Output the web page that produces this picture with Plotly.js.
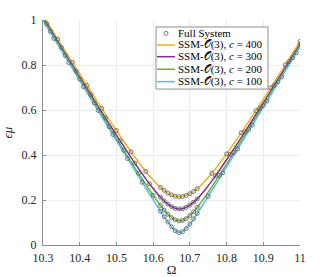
<!DOCTYPE html>
<html><head><meta charset="utf-8">
<script src="https://cdn.plot.ly/plotly-3.0.1.min.js"></script>
<style>body{margin:0;background:#fff}#g{width:332px;height:277px}</style>
</head><body><div id="g"></div>
<script>
// SSM-O(3) curves
const omegaSSM = [10.30,10.35,10.40,10.45,10.50,10.55,10.58,10.60,10.62,10.64,10.66,10.672,10.68,10.70,10.72,10.74,10.76,10.80,10.85,10.90,10.95,11.00];
const ssm400 = [1.020,0.889,0.760,0.633,0.509,0.391,0.327,0.289,0.256,0.231,0.217,0.215,0.216,0.228,0.250,0.282,0.319,0.405,0.523,0.648,0.775,0.905];
const ssm300 = [1.010,0.878,0.746,0.616,0.488,0.364,0.294,0.251,0.212,0.182,0.163,0.160,0.161,0.177,0.205,0.242,0.285,0.379,0.503,0.632,0.762,0.893];
const ssm200 = [1.003,0.870,0.737,0.605,0.473,0.344,0.269,0.221,0.176,0.137,0.112,0.107,0.109,0.131,0.167,0.211,0.259,0.359,0.489,0.620,0.753,0.886];
const ssm100 = [0.998,0.865,0.731,0.597,0.464,0.332,0.253,0.201,0.150,0.102,0.064,0.055,0.059,0.093,0.140,0.190,0.242,0.347,0.480,0.613,0.747,0.881];

// Full system samples
const fsOmega400 = [10.30,10.34,10.38,10.42,10.46,10.50,10.54,10.58,10.62,10.63,10.64,10.65,10.66,10.67,10.68,10.69,10.70,10.71,10.72,10.76,10.80,10.84,10.88,10.92,10.96,11.00];
const fs400 = [1.020,0.915,0.812,0.709,0.607,0.509,0.414,0.327,0.256,0.243,0.231,0.223,0.217,0.215,0.216,0.220,0.228,0.238,0.250,0.319,0.405,0.499,0.597,0.699,0.801,0.905];
const fsOmega300 = [10.31,10.35,10.39,10.43,10.47,10.51,10.55,10.59,10.62,10.63,10.64,10.65,10.66,10.67,10.68,10.69,10.70,10.71,10.72,10.77,10.81,10.85,10.89,10.93,10.97,11.00];
const fs300 = [0.983,0.878,0.773,0.668,0.565,0.463,0.364,0.272,0.212,0.196,0.182,0.171,0.163,0.160,0.161,0.167,0.177,0.190,0.205,0.308,0.403,0.503,0.606,0.710,0.815,0.893];
const fsOmega200 = [10.32,10.36,10.40,10.44,10.48,10.52,10.56,10.60,10.62,10.63,10.64,10.65,10.66,10.67,10.68,10.69,10.70,10.71,10.72,10.78,10.82,10.86,10.90,10.94,10.98];
const fs200 = [0.949,0.843,0.737,0.631,0.526,0.421,0.319,0.221,0.176,0.155,0.137,0.122,0.112,0.107,0.109,0.117,0.131,0.148,0.167,0.309,0.411,0.515,0.620,0.726,0.832];
const fsOmega100 = [10.33,10.37,10.41,10.45,10.49,10.53,10.57,10.62,10.63,10.64,10.65,10.66,10.67,10.68,10.69,10.70,10.71,10.72,10.75,10.79,10.83,10.87,10.91,10.95,10.99];
const fs100 = [0.918,0.811,0.704,0.598,0.491,0.384,0.279,0.150,0.125,0.102,0.081,0.064,0.055,0.059,0.073,0.093,0.116,0.140,0.216,0.321,0.427,0.533,0.640,0.747,0.854];

const xTicks = [10.3,10.4,10.5,10.6,10.7,10.8,10.9,11];
const xTickText = ['10.3','10.4','10.5','10.6','10.7','10.8','10.9','11'];
const yTicks = [0,0.2,0.4,0.6,0.8,1];
const yTickText = ['0','0.2','0.4','0.6','0.8','1'];

const cLabels = ['400','300','200','100'];
const fsLabel = 'Full System';
const colors = ['#EDB120','#7E2F8E','#77AC30','#4DBEEE'];
const ssmSeries = [ssm400, ssm300, ssm200, ssm100];
const fsX = [fsOmega400, fsOmega300, fsOmega200, fsOmega100];
const fsY = [fs400, fs300, fs200, fs100];

const serif = 'Liberation Serif, DejaVu Serif, serif';
const traces = [];
ssmSeries.forEach((ys, i) => {
  traces.push({
    x: omegaSSM, y: ys, type: 'scatter', mode: 'lines',
    line: {color: colors[i], width: 1.5, shape: 'spline', smoothing: 0.8},
    name: 'SSM-𝒪(3), <i>c</i> = ' + cLabels[i], showlegend: false
  });
});
fsX.forEach((xs, i) => {
  traces.push({
    x: xs, y: fsY[i], type: 'scatter', mode: 'markers',
    marker: {symbol: 'circle-open', size: 4, color: '#5a5a5a', line: {width: 0.8}},
    name: fsLabel, showlegend: false
  });
});

// Legend drawn in paper coordinates
const legRows = [0.941, 0.889, 0.837, 0.781, 0.726];
const legX0 = 0.4436, legX1 = 0.5136, legTextX = 0.5175;
const shapes = [
  {type: 'rect', xref: 'paper', yref: 'paper', x0: 0.4397, x1: 0.8755, y0: 0.693, y1: 0.969,
   line: {color: '#8c8c8c', width: 1}, fillcolor: '#ffffff', layer: 'above'},
  {type: 'circle', xref: 'paper', yref: 'paper', x0: 0.4786 - 0.0078, x1: 0.4786 + 0.0078,
   y0: legRows[0] - 0.0089, y1: legRows[0] + 0.0089, line: {color: '#5a5a5a', width: 0.8}, layer: 'above'}
];
const annotations = [
  {xref: 'paper', yref: 'paper', x: legTextX, y: legRows[0], xanchor: 'left', yanchor: 'middle',
   text: fsLabel, showarrow: false, font: {family: serif, size: 11, color: '#000'}}
];
cLabels.forEach((c, i) => {
  shapes.push({type: 'line', xref: 'paper', yref: 'paper', x0: legX0, x1: legX1,
    y0: legRows[i + 1], y1: legRows[i + 1], line: {color: colors[i], width: 1.5}, layer: 'above'});
  annotations.push({xref: 'paper', yref: 'paper', x: legTextX, y: legRows[i + 1], xanchor: 'left', yanchor: 'middle',
    text: 'SSM-𝒪(3), <i>c</i> = ' + c, showarrow: false, font: {family: serif, size: 11, color: '#000'}});
});

const axisFont = {family: serif, size: 12, color: '#262626'};
const layout = {
  width: 332, height: 277,
  margin: {l: 43, r: 32, t: 20, b: 32},
  paper_bgcolor: '#fff', plot_bgcolor: '#fff',
  showlegend: false,
  font: axisFont,
  shapes: shapes,
  annotations: annotations,
  xaxis: {
    range: [10.3, 11], tickvals: xTicks, ticktext: xTickText,
    showgrid: true, gridcolor: '#ebebeb', gridwidth: 1,
    zeroline: false, showline: true, linecolor: '#8c8c8c', linewidth: 1,
    ticks: 'inside', ticklen: 3, tickcolor: '#8c8c8c',
    tickfont: axisFont, ticklabelstandoff: 2,
    title: {text: 'Ω', font: {family: serif, size: 13, color: '#262626'}, standoff: 1}
  },
  yaxis: {
    range: [0, 1], tickvals: yTicks, ticktext: yTickText,
    showgrid: true, gridcolor: '#ebebeb', gridwidth: 1,
    zeroline: false, showline: true, linecolor: '#8c8c8c', linewidth: 1,
    ticks: 'inside', ticklen: 3, tickcolor: '#8c8c8c',
    tickfont: axisFont, ticklabelstandoff: 3,
    title: {text: '<i>ϵμ</i>', font: {family: serif, size: 13, color: '#262626'}, standoff: 7}
  }
};
Plotly.newPlot('g', traces, layout, {displayModeBar: false, staticPlot: true});
</script></body></html>
